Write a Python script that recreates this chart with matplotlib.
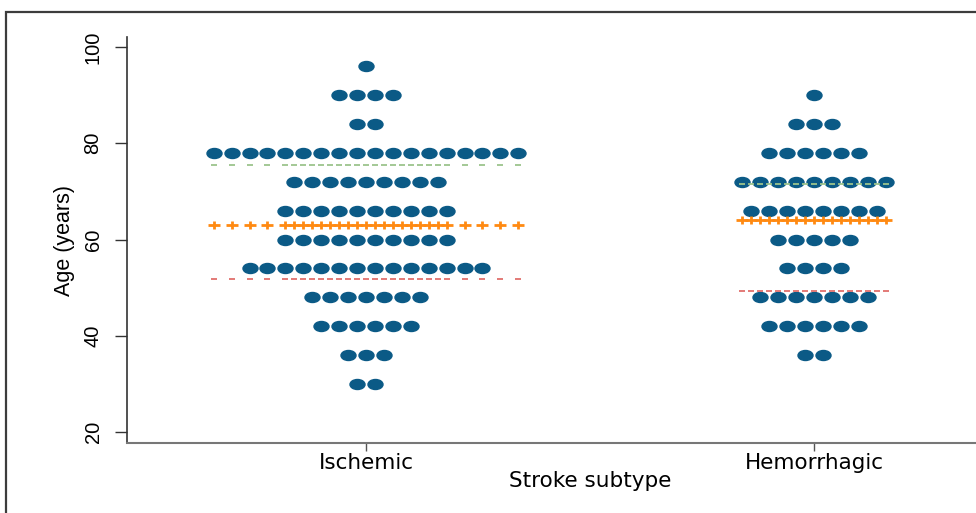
"""Dot plot of age by stroke subtype, with upper / mean / lower reference lines."""

import numpy as np
import matplotlib
matplotlib.use("Agg")
import matplotlib.pyplot as plt
from matplotlib.path import Path
from matplotlib.patches import Rectangle

# ---- data ----
GROUPS = ["Ischemic", "Hemorrhagic"]

isch_ages = [96, 90, 84, 78, 72, 66, 60, 54, 48, 42, 36, 30]
isch_counts = [1, 4, 2, 18, 9, 10, 10, 14, 7, 6, 3, 2]

hem_ages = [90, 84, 78, 72, 66, 60, 54, 48, 42, 36]
hem_counts = [1, 3, 6, 9, 8, 5, 4, 7, 6, 2]

upper_line = [75.5, 71.5]   # green dashed
mean_line = [63.0, 64.0]    # orange plus
lower_line = [51.7, 49.4]   # red dashed

# ---- style ----
DOT = "#0b5a86"
ORANGE = "#ff8a12"
GREEN = "#9cc48c"
RED = "#e0706c"
STEP = 0.04                 # horizontal spacing of stacked dots (data units)
NARROW = ["Liberation Sans Narrow", "Liberation Sans", "DejaVu Sans"]

# squashed circle / plus, like the stretched Stata export
_c = Path.unit_circle()
ELLIPSE = Path(_c.vertices * np.array([1.5, 1.0]), _c.codes)
PLUS = Path([(-1, 0), (1, 0), (0, -0.8), (0, 0.8)],
            [Path.MOVETO, Path.LINETO, Path.MOVETO, Path.LINETO])


def offsets(n):
    return (np.arange(n) - (n - 1) / 2.0) * STEP


def main():
    fig = plt.figure(figsize=(9.76, 5.13), dpi=100)
    W, H = 976.0, 513.0
    ax = fig.add_axes([127 / W, 1 - 443 / H, (976 - 127) / W, (443 - 37) / H])

    data = [(isch_ages, isch_counts), (hem_ages, hem_counts)]
    for i, (ages, counts) in enumerate(data):
        xc = i + 1
        xs, ys = [], []
        for a, n in zip(ages, counts):
            xs.extend(xc + offsets(n))
            ys.extend([a] * n)
        ax.plot(xs, ys, ls="none", marker=ELLIPSE, ms=10.8, color=DOT,
                mec=DOT, zorder=2)

        # reference lines drawn as markers at every dot column of the group
        cols = np.unique(np.round(np.concatenate([offsets(n) for n in counts]), 4))
        xl = xc + cols
        ax.plot(xl, [upper_line[i]] * len(xl), ls="none", marker="_", ms=4.5,
                mew=1.3, color=GREEN, zorder=3)
        ax.plot(xl, [lower_line[i]] * len(xl), ls="none", marker="_", ms=4.5,
                mew=1.3, color=RED, zorder=3)
        ax.plot(xl, [mean_line[i]] * len(xl), ls="none", marker=PLUS, ms=8,
                mew=2.0, color=ORANGE, zorder=3)

    ax.set_xlim(0.4665, 2.3616)
    ax.set_ylim(17.7, 102.1)
    ax.set_xticks([1, 2])
    ax.set_xticklabels(GROUPS, fontsize=15.5, family="DejaVu Sans")
    ax.set_yticks([20, 40, 60, 80, 100])
    ax.set_yticklabels(["20", "40", "60", "80", "100"], fontsize=14.5,
                       family=NARROW, rotation=90, va="center")

    ax.tick_params(axis="y", length=8.6, width=1, pad=9, color="#333333")
    ax.tick_params(axis="x", length=6, width=1, pad=1.5, color="#555555")

    ax.set_ylabel("Age (years)", fontsize=15.5, family=NARROW, labelpad=6)
    ax.set_xlabel("Stroke subtype", fontsize=15.5, family="DejaVu Sans",
                  labelpad=-2, x=(590 - 127) / 849.0)

    for s in ("top", "right"):
        ax.spines[s].set_visible(False)
    ax.spines["left"].set_color("#333333")
    ax.spines["left"].set_linewidth(1.2)
    ax.spines["bottom"].set_color("#777777")
    ax.spines["bottom"].set_linewidth(1.5)

    # outer frame, cut by the right / bottom image edge
    fig.add_artist(Rectangle((6 / W, -0.1), 1.2, 1.1 - 12 / H,
                             transform=fig.transFigure, fill=False,
                             edgecolor="#3c3c3c", linewidth=1.6))

    fig.savefig("out.png", dpi=100)


if __name__ == "__main__":
    main()
